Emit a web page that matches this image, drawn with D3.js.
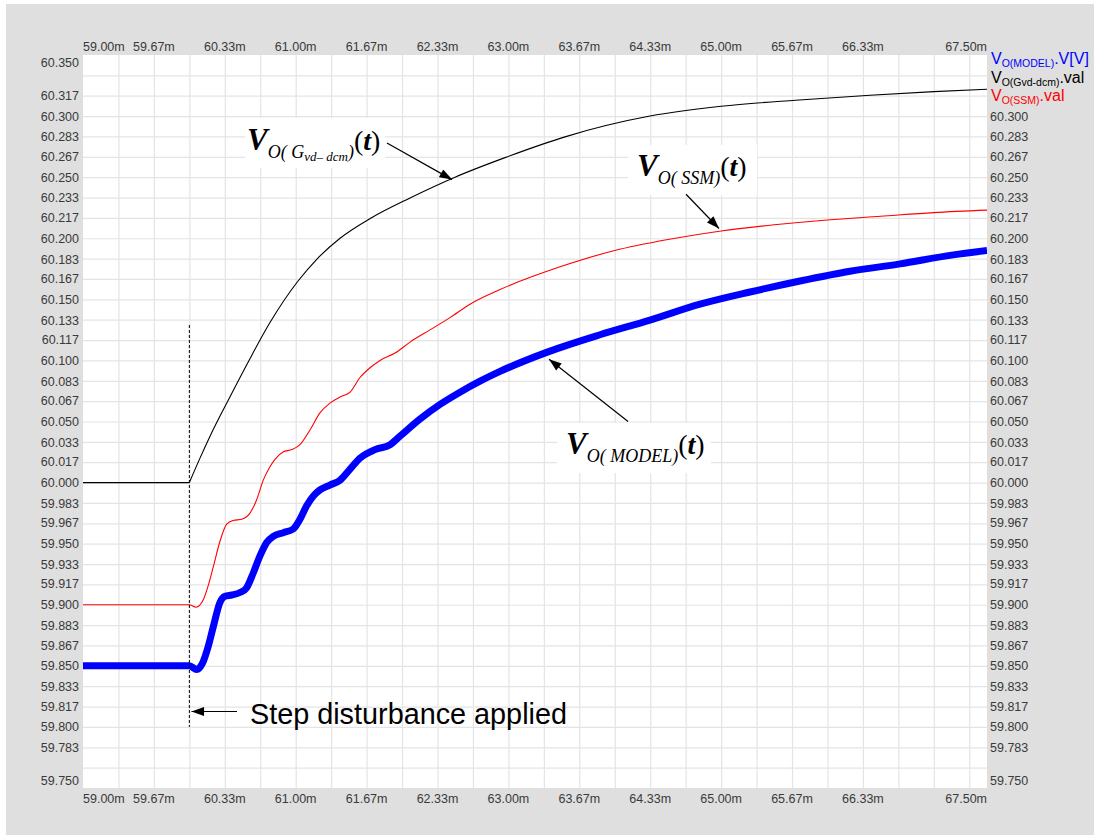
<!DOCTYPE html>
<html><head><meta charset="utf-8">
<script src="https://cdn.jsdelivr.net/npm/d3@7"></script>
<style>
html,body{margin:0;padding:0;background:#fff;}
svg{display:block}
</style></head><body>
<svg id="chart" width="1094" height="835"></svg>
<script>
// Output voltage after a step disturbance: switching model vs. small-signal model vs. Gvd-dcm transfer function
// time in ms, voltage in V

const gvdTime  = [59.0, 60.0, 60.1, 60.2, 60.363, 60.561, 60.758, 61.022, 61.2, 61.417, 61.717, 62.075, 62.498, 62.968, 63.532, 64.331, 65.0, 65.7, 66.4, 67.0, 67.5];
const gvdValue = [60.000, 60.000, 60.020, 60.039, 60.067, 60.100, 60.131, 60.165, 60.183, 60.200, 60.217, 60.233, 60.250, 60.266, 60.283, 60.300, 60.308, 60.313, 60.317, 60.320, 60.322];

const ssmTime  = [59.0, 60.0, 60.063, 60.131, 60.175, 60.225, 60.288, 60.351, 60.413, 60.492, 60.570, 60.633, 60.695, 60.758, 60.805, 60.881, 60.965, 61.040, 61.134, 61.228, 61.322, 61.417, 61.511, 61.605, 61.699, 61.793, 61.934, 62.075, 62.263, 62.451, 62.639, 62.921, 63.5, 64.0, 64.5, 65.0, 65.5, 66.0, 66.5, 67.0, 67.5];
const ssmValue = [59.900, 59.900, 59.898, 59.904, 59.915, 59.931, 59.952, 59.966, 59.969, 59.970, 59.975, 59.986, 60.002, 60.013, 60.019, 60.025, 60.027, 60.031, 60.043, 60.057, 60.065, 60.070, 60.074, 60.086, 60.094, 60.100, 60.106, 60.115, 60.125, 60.135, 60.146, 60.158, 60.177, 60.190, 60.199, 60.206, 60.211, 60.215, 60.218, 60.221, 60.223];

const modelTime  = [59.0, 60.0, 60.069, 60.128, 60.178, 60.225, 60.288, 60.335, 60.398, 60.476, 60.539, 60.601, 60.664, 60.727, 60.789, 60.883, 60.977, 61.040, 61.103, 61.166, 61.228, 61.322, 61.417, 61.511, 61.605, 61.746, 61.887, 61.981, 62.169, 62.357, 62.545, 62.733, 62.921, 63.372, 63.861, 64.331, 64.802, 65.272, 65.742, 66.212, 66.682, 67.152, 67.5];
const modelValue = [59.850, 59.850, 59.847, 59.853, 59.866, 59.882, 59.902, 59.907, 59.908, 59.910, 59.914, 59.926, 59.940, 59.951, 59.956, 59.959, 59.962, 59.970, 59.981, 59.989, 59.994, 59.998, 60.002, 60.011, 60.020, 60.027, 60.031, 60.038, 60.052, 60.064, 60.074, 60.083, 60.091, 60.107, 60.121, 60.133, 60.146, 60.156, 60.165, 60.173, 60.179, 60.186, 60.190];

const yTickLabels = ["60.350","60.317","60.300","60.283","60.267","60.250","60.233","60.217","60.200","60.183","60.167","60.150","60.133","60.117","60.100","60.083","60.067","60.050","60.033","60.017","60.000","59.983","59.967","59.950","59.933","59.917","59.900","59.883","59.867","59.850","59.833","59.817","59.800","59.783","59.750"];
const xTickLabels = ["59.00m","59.67m","60.33m","61.00m","61.67m","62.33m","63.00m","63.67m","64.33m","65.00m","65.67m","66.33m","67.50m"];

const W = 1094, H = 835;
const P = {left: 83, top: 55, right: 987, bottom: 788};
const sans = '"Liberation Sans",Arial,sans-serif';
const serif = '"Liberation Serif","Times New Roman",serif';
const svg = d3.select("#chart").style("font-family", sans);

const x = d3.scaleLinear().domain([59, 67.5]).range([P.left, P.right]);
const y = d3.scaleLinear().domain([59.75, 60.35]).range([P.bottom, P.top]);

// grey panel + white plotting area
svg.append("rect").attr("x", 6).attr("y", 4).attr("width", W - 6).attr("height", H - 4).attr("fill", "#dfdfdf");
svg.append("rect").attr("x", P.left).attr("y", P.top).attr("width", P.right - P.left).attr("height", P.bottom - P.top).attr("fill", "#ffffff");

// grid: 1/3 ms vertically, 1/60 V horizontally
const xGrid = d3.range(1, 26).map(i => 59 + i / 3);
const yGrid = d3.range(1, 36).map(i => 59.75 + i / 60);
const gridColor = "#e4e4e4";
svg.append("g").attr("transform", `translate(0,${P.bottom})`)
  .call(d3.axisBottom(x).tickValues(xGrid).tickSize(P.top - P.bottom).tickFormat(""))
  .call(g => g.select(".domain").remove())
  .call(g => g.selectAll("line").attr("stroke", gridColor).attr("stroke-width", 1.2));
svg.append("g").attr("transform", `translate(${P.left},0)`)
  .call(d3.axisLeft(y).tickValues(yGrid).tickSize(P.left - P.right).tickFormat(""))
  .call(g => g.select(".domain").remove())
  .call(g => g.selectAll("line").attr("stroke", gridColor).attr("stroke-width", 1.2));

// y labels (left and right), edge labels pulled inside the plot height
const yLabelPos = v => Math.min(Math.max(y(v), P.top + 7), P.bottom - 8);
const labelColor = "#3a3a3a";
const yl = svg.append("g").attr("font-size", 12.5).attr("fill", labelColor);
yl.selectAll("text.l").data(yTickLabels).join("text").attr("class", "l")
  .attr("x", P.left - 4).attr("y", d => yLabelPos(+d)).attr("dy", "0.36em")
  .attr("text-anchor", "end").text(d => d);
yl.selectAll("text.r").data(yTickLabels.filter(d => +d < 60.31)).join("text").attr("class", "r")
  .attr("x", P.right + 3).attr("y", d => yLabelPos(+d)).attr("dy", "0.36em")
  .attr("text-anchor", "start").text(d => d);

// x labels top and bottom
const anchorFor = (d, i) => i === 0 ? "start" : (i === xTickLabels.length - 1 ? "end" : "middle");
const xPos = d => {
  const v = parseFloat(d);
  const third = Math.round(v * 3) / 3;
  return x(Math.abs(v - third) < 0.01 ? third : v);
};
[P.top - 4, P.bottom + 15].forEach(by => {
  svg.append("g").attr("font-size", 12.5).attr("fill", labelColor)
    .selectAll("text").data(xTickLabels).join("text")
    .attr("x", d => xPos(d)).attr("y", by)
    .attr("text-anchor", anchorFor).text(d => d);
});

// curves
svg.append("clipPath").attr("id", "plotclip").append("rect")
  .attr("x", P.left).attr("y", P.top).attr("width", P.right - P.left).attr("height", P.bottom - P.top);
const line = d3.line().x(d => x(d[0])).y(d => y(d[1])).curve(d3.curveMonotoneX);
const plot = svg.append("g").attr("clip-path", "url(#plotclip)");

plot.append("path").datum(d3.zip(modelTime, modelValue)).attr("d", line)
  .attr("fill", "none").attr("stroke", "#0000ff").attr("stroke-width", 7).attr("stroke-linejoin", "round");
plot.append("path").datum(d3.zip(ssmTime, ssmValue)).attr("d", line)
  .attr("fill", "none").attr("stroke", "#ff0000").attr("stroke-width", 1.1);
// transfer-function response has a sharp corner at the step: draw before/after separately
const gvd = d3.zip(gvdTime, gvdValue);
const stepIdx = gvdTime.indexOf(60.0);
[gvd.slice(0, stepIdx + 1), gvd.slice(stepIdx)].forEach(seg => {
  plot.append("path").datum(seg).attr("d", line)
    .attr("fill", "none").attr("stroke", "#000000").attr("stroke-width", 1.1);
});

// step instant marker
svg.append("line").attr("x1", x(60)).attr("x2", x(60)).attr("y1", y(60.129)).attr("y2", y(59.800))
  .attr("stroke", "#000").attr("stroke-width", 1).attr("stroke-dasharray", "3,2");

// arrow marker
const defs = svg.append("defs");
defs.append("marker").attr("id", "ah").attr("viewBox", "0 0 14 10").attr("refX", 14).attr("refY", 5)
  .attr("markerWidth", 14).attr("markerHeight", 9).attr("markerUnits", "userSpaceOnUse").attr("orient", "auto")
  .append("path").attr("d", "M0,0 L14,5 L0,10 Z").attr("fill", "#000");

const arrow = (t1, v1, t2, v2) => svg.append("line")
  .attr("x1", x(t1)).attr("y1", y(v1)).attr("x2", x(t2)).attr("y2", y(v2))
  .attr("stroke", "#000").attr("stroke-width", 1.2).attr("marker-end", "url(#ah)");

// "Step disturbance applied"
arrow(60.448, 59.8126, 60.02, 59.8126);
svg.append("text").attr("x", x(60.57)).attr("y", y(59.8025)).attr("font-size", 28.8).attr("fill", "#000")
  .text("Step disturbance applied");

// curve labels
function curveLabel(box, tx, ty, sub, subsub) {
  svg.append("rect").attr("x", box[0]).attr("y", box[1]).attr("width", box[2]).attr("height", box[3]).attr("fill", "#fff");
  const t = svg.append("text").attr("x", tx).attr("y", ty).style("font-family", serif)
    .attr("font-style", "italic").attr("font-weight", "bold").attr("fill", "#000");
  t.append("tspan").attr("font-size", 31).text("V");
  t.append("tspan").attr("font-size", 18).attr("font-weight", "normal").attr("dy", 8).text(sub);
  if (subsub) {
    t.append("tspan").attr("font-size", 13).attr("font-weight", "normal").attr("dy", 3).text(subsub);
    t.append("tspan").attr("font-size", 18).attr("font-weight", "normal").attr("dy", -3).text(")");
  }
  t.append("tspan").attr("font-size", 28).attr("font-weight", "normal").attr("font-style", "normal").attr("dy", -8).text("(");
  t.append("tspan").attr("font-size", 28).text("t");
  t.append("tspan").attr("font-size", 28).attr("font-weight", "normal").attr("font-style", "normal").text(")");
}
curveLabel([245, 118, 140, 50], 247, 150, "O( G", "vd\u2013 dcm");
arrow(61.858, 60.278, 62.47, 60.248);
curveLabel([628, 145, 129, 50], 637, 176, "O( SSM)", null);
arrow(64.67, 60.236, 64.98, 60.208);
curveLabel([557, 423, 154, 50], 566, 454, "O( MODEL)", null);
arrow(64.125, 60.050, 63.382, 60.101);

// legend
const legend = [
  {sub: "O(MODEL)", tail: ".V[V]", color: "#0000ff"},
  {sub: "O(Gvd-dcm)", tail: ".val", color: "#000000"},
  {sub: "O(SSM)", tail: ".val", color: "#ff0000"}
];
const lg = svg.append("g");
legend.forEach((d, i) => {
  const t = lg.append("text").attr("x", 991).attr("y", 64 + i * 18.5).attr("fill", d.color).attr("font-size", 16);
  t.append("tspan").text("V");
  t.append("tspan").attr("font-size", 10.5).attr("dy", 3).text(d.sub);
  t.append("tspan").attr("dy", -3).text(d.tail);
});
</script>
</body></html>
